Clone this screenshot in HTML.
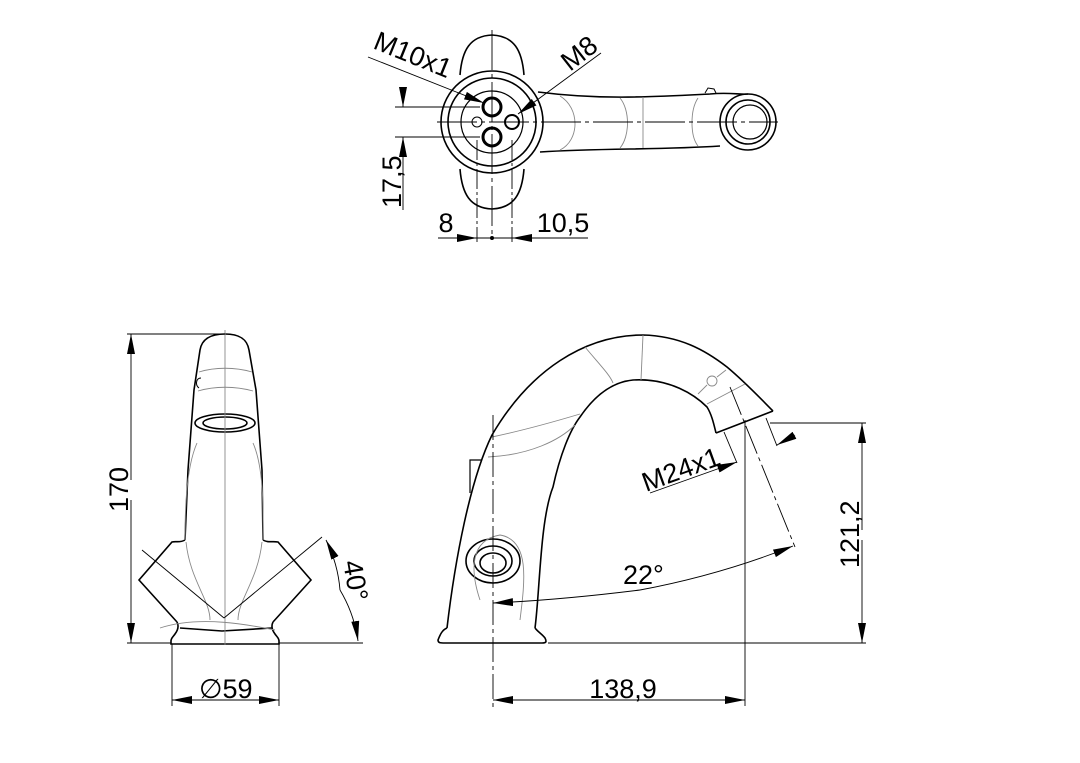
<!DOCTYPE html>
<html><head><meta charset="utf-8"><style>
html,body{margin:0;padding:0;background:#fff}
svg{display:block}
text{font-family:"Liberation Sans",sans-serif;font-size:27px;fill:#000}
</style></head><body>
<svg width="1080" height="763" viewBox="0 0 1080 763" xmlns="http://www.w3.org/2000/svg" font-size="27">
<defs>
<marker id="a" viewBox="0 0 20 8" refX="20" refY="4" markerWidth="20" markerHeight="8" markerUnits="userSpaceOnUse" orient="auto-start-reverse"><path d="M0,0 L20,4 L0,8 Z" fill="#000"/></marker>
</defs>
<g fill="none" stroke="#000" stroke-width="1.6">
<path d="M460,75 C462,50 470,36 492,35 C514,36 522,50 524,75"/>
<path d="M460,169 C462,194 470,208 492,209 C514,208 522,194 524,169"/>
<circle cx="492" cy="122" r="51" fill="#fff"/>
<circle cx="492" cy="122" r="44"/>
<circle cx="492" cy="122" r="31" stroke-width="1.2"/>
<circle cx="492" cy="107" r="9" stroke-width="3"/>
<circle cx="492" cy="137" r="9" stroke-width="3"/>
<circle cx="477" cy="122" r="5" stroke-width="1"/>
<circle cx="512" cy="122" r="7" stroke-width="2"/>
<path d="M538,92 C600,100 650,97 710,94 C730,92 740,95 748,94"/>
<path d="M540,152 C600,148 660,150 720,146"/>
<circle cx="748" cy="122" r="28"/>
<circle cx="748" cy="122" r="22"/>
<circle cx="750" cy="122" r="17" stroke-width="1.2"/>
<path d="M705,93 L708,88 L714,89 L716,93" stroke-width="1"/>
</g>
<g fill="none" stroke="#888" stroke-width="0.9">
<path d="M560,96 C580,108 580,140 560,150"/>
<path d="M620,98 C630,110 630,136 620,148"/>
<path d="M698,98 C690,110 690,136 698,146"/>
<line x1="643" y1="97" x2="643" y2="148"/>
</g>
<g fill="none" stroke="#000" stroke-width="0.9">
<line x1="437" y1="122" x2="778" y2="122" stroke-dasharray="40 4 4 4"/>
<line x1="492" y1="30" x2="492" y2="240" stroke-dasharray="40 4 4 4"/>
<line x1="477" y1="140" x2="477" y2="242" stroke-dasharray="20 3 3 3"/>
<line x1="512" y1="140" x2="512" y2="242" stroke-dasharray="20 3 3 3"/>
<line x1="395" y1="107" x2="480" y2="107"/>
<line x1="395" y1="137" x2="480" y2="137"/>
<line x1="403" y1="88" x2="403" y2="107" marker-end="url(#a)"/>
<line x1="403" y1="210" x2="403" y2="137" marker-end="url(#a)"/>
<line x1="438" y1="238" x2="477" y2="238" marker-end="url(#a)"/>
<line x1="588" y1="238" x2="512" y2="238" marker-end="url(#a)"/>
<line x1="477" y1="238" x2="512" y2="238"/>
<line x1="368" y1="57" x2="484" y2="103" marker-end="url(#a)"/>
<line x1="601" y1="53" x2="518" y2="114" marker-end="url(#a)"/>
</g>
<circle cx="492" cy="238" r="2" fill="#000"/>
<text x="446" y="232" text-anchor="middle">8</text>
<text x="563" y="232" text-anchor="middle">10,5</text>
<text transform="translate(401,208) rotate(-90)">17,5</text>
<text transform="translate(372,48) rotate(22)">M10x1</text>
<text transform="translate(570,72) rotate(-38)">M8</text>

<g fill="none" stroke="#000" stroke-width="1.6">
<path d="M185,540 L188,470 L194,390 L200,350 C202,338 212,334 225,334 C238,334 247,338 249,350 L256,390 L262,470 L263,540"/>
<path d="M185,540 C180,543 176,541 172,542 L139,580 L177,622"/>
<path d="M263,540 C268,543 272,541 278,542 L311,580 L273,622"/>
<path d="M177,622 C179,626 178,630 175,634 C173,637 171,638 171,641 L171,644 L279,644 L279,641 C279,638 277,637 275,634 C272,630 271,626 273,622"/>
<path d="M180,628 L222,631 L272,628"/>
<ellipse cx="225" cy="423" rx="30" ry="9" fill="#fff"/>
<ellipse cx="225" cy="423" rx="22" ry="6"/>
<path d="M201,378 C196,378 195,385 199,388" stroke-width="1"/>
</g>
<g fill="none" stroke="#888" stroke-width="0.9">
<path d="M199,372 C215,367 235,367 252,372"/>
<path d="M198,391 C215,386 235,386 253,391"/>
<path d="M197,443 C185,470 185,520 185,540"/>
<path d="M253,443 C265,470 263,520 263,540"/>
<path d="M186,542 C190,580 210,600 210,620"/>
<path d="M262,542 C258,580 238,600 238,620"/>
<path d="M160,628 C200,615 250,625 275,630"/>
</g>
<g fill="none" stroke="#000" stroke-width="0.9">
<line x1="225" y1="330" x2="225" y2="645" stroke="#888"/>
<line x1="142" y1="550" x2="224" y2="618"/>
<line x1="224" y1="618" x2="322" y2="537"/>
<line x1="127" y1="334" x2="225" y2="334"/>
<line x1="127" y1="643" x2="171" y2="643"/>
<line x1="279" y1="643" x2="363" y2="643"/>
<line x1="131" y1="480" x2="131" y2="334" marker-end="url(#a)"/>
<line x1="131" y1="500" x2="131" y2="643" marker-end="url(#a)"/>
<line x1="172" y1="644" x2="172" y2="706"/>
<line x1="279" y1="644" x2="279" y2="706"/>
<line x1="225" y1="700" x2="172" y2="700" marker-end="url(#a)"/>
<line x1="225" y1="700" x2="279" y2="700" marker-end="url(#a)"/>
<path d="M340,590 A136,136 0 0 0 326,540" marker-end="url(#a)"/>
<path d="M340,590 A136,136 0 0 1 358,641" marker-end="url(#a)"/>
</g>
<text transform="translate(128,512) rotate(-90)">170</text>
<text x="199" y="698">∅59</text>
<text transform="translate(343,562) rotate(80)">40°</text>

<g fill="none" stroke="#000" stroke-width="1.6">
<path d="M447,628 C455,560 470,480 492,435 C530,370 585,335 643,335 C680,336 705,350 727,367 C745,382 760,398 773,411"/>
<path d="M535,628 C540,590 540,520 553,487 C560,455 570,430 580,417 C595,395 612,382 633,380 C670,378 695,395 707,407 C712,415 714,425 716,433"/>
<path d="M716,433 L773,411"/>
<path d="M447,628 C442,630 440,635 438,640 C438,643 440,643 445,643 L542,643 C546,643 547,642 545,638 C542,634 538,632 535,628"/>
<path d="M470,493 L470,460 L482,460" stroke-width="1.2"/>
<ellipse cx="493" cy="561" rx="27" ry="22"/>
<ellipse cx="493" cy="561" rx="19" ry="15"/>
<ellipse cx="493" cy="563" rx="13" ry="10"/>
</g>
<g fill="none" stroke="#888" stroke-width="0.9">
<path d="M492,437 C525,430 560,420 580,414"/>
<path d="M488,457 C530,455 560,440 575,425"/>
<path d="M585,347 C600,365 610,375 613,383"/>
<line x1="643" y1="335" x2="641" y2="380"/>
<circle cx="712" cy="381" r="5"/>
<line x1="698" y1="394" x2="707" y2="385"/>
<line x1="717" y1="377" x2="726" y2="370"/>
<path d="M707,404 L745,384"/>
<path d="M480,600 C470,570 470,540 500,535 C530,540 525,580 520,620"/>
</g>
<g fill="none" stroke="#000" stroke-width="0.9">
<line x1="493" y1="415" x2="493" y2="710" stroke-dasharray="25 4 4 4"/>
<line x1="745" y1="420" x2="745" y2="706"/>
<line x1="548" y1="643" x2="866" y2="643"/>
<line x1="770" y1="423" x2="866" y2="423"/>
<line x1="862" y1="530" x2="862" y2="423" marker-end="url(#a)"/>
<line x1="862" y1="540" x2="862" y2="643" marker-end="url(#a)"/>
<line x1="620" y1="700" x2="493" y2="700" marker-end="url(#a)"/>
<line x1="620" y1="700" x2="745" y2="700" marker-end="url(#a)"/>
<line x1="730" y1="387" x2="795" y2="547" stroke-dasharray="30 4 4 4"/>
<line x1="724" y1="432" x2="737" y2="463"/>
<line x1="766" y1="418" x2="777" y2="446"/>
<line x1="650" y1="493" x2="737" y2="462" marker-end="url(#a)"/>
<line x1="795" y1="435" x2="777" y2="445" marker-end="url(#a)"/>
<path d="M640,590 Q720,575 793,546" marker-end="url(#a)"/>
<path d="M640,590 Q560,600 493,603" marker-end="url(#a)"/>
</g>
<text x="623" y="698" text-anchor="middle">138,9</text>
<text transform="translate(859,568) rotate(-90)">121,2</text>
<text x="623" y="584">22°</text>
<text transform="translate(646,492) rotate(-20)">M24x1</text>
</svg>
</body></html>
